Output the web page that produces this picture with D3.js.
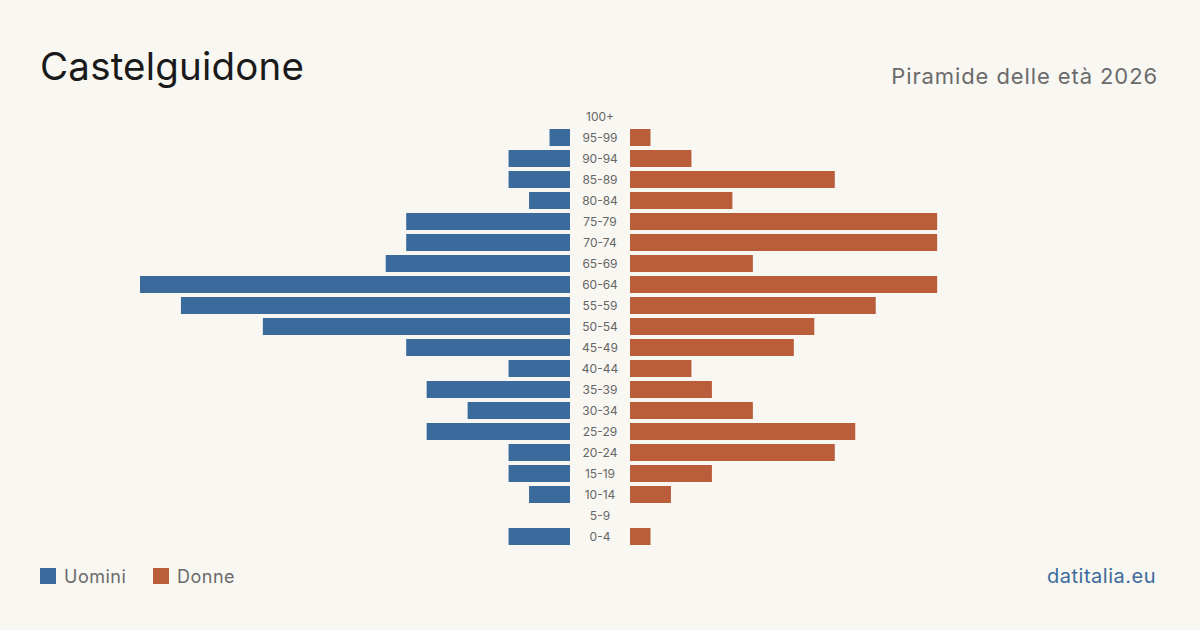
<!DOCTYPE html>
<html><head><meta charset="utf-8">
<script src="https://cdn.jsdelivr.net/npm/d3@7"></script>
<style>html,body{margin:0;padding:0;background:#f9f7f2;}svg{display:block;font-family:Inter,"Noto Sans",sans-serif;}</style>
</head><body>
<script>
const ageGroups = ["100+","95-99","90-94","85-89","80-84","75-79","70-74","65-69","60-64","55-59","50-54","45-49","40-44","35-39","30-34","25-29","20-24","15-19","10-14","5-9","0-4"];
const males   = [0,1,3,3,2,8,8,9,21,19,15,8,3,7,5,7,3,3,2,0,3];
const females = [0,1,3,10,5,15,15,6,15,12,9,8,3,4,6,11,10,4,2,0,1];
const title = "Castelguidone";
const subtitle = "Piramide delle età 2026";
const legendLabels = ["Uomini","Donne"];
const source = "datitalia.eu";

const W=1200,H=630;
const cMale="#3b6b9c", cFemale="#b95d3b";
const svg=d3.select("body").append("svg").attr("width",W).attr("height",H);
svg.append("rect").attr("width",W).attr("height",H).attr("fill","#f9f7f2");

const y=d3.scaleBand().domain(ageGroups).range([104,549]).paddingInner(4/21).paddingOuter(4/21);
const maxV=21;
const xM=d3.scaleLinear().domain([0,maxV]).range([570,140]);
const xF=d3.scaleLinear().domain([0,maxV]).range([630,1060]);

svg.append("g").selectAll("rect").data(ageGroups).join("rect")
  .attr("x",(d,i)=>xM(males[i])).attr("y",d=>y(d))
  .attr("width",(d,i)=>xM(0)-xM(males[i])).attr("height",y.bandwidth())
  .attr("fill",cMale);
svg.append("g").selectAll("rect").data(ageGroups).join("rect")
  .attr("x",xF(0)).attr("y",d=>y(d))
  .attr("width",(d,i)=>xF(females[i])-xF(0)).attr("height",y.bandwidth())
  .attr("fill",cFemale);

svg.append("g").selectAll("text").data(ageGroups).join("text")
  .attr("x",600).attr("y",d=>y(d)+y.bandwidth()/2).attr("dy","0.35em")
  .attr("text-anchor","middle").attr("font-size",12).attr("fill","#666")
  .text(d=>d);

svg.append("text").attr("x",40).attr("y",80).attr("font-size",38.5).attr("letter-spacing",0.2).attr("fill","#1a1a1a").text(title);
svg.append("text").attr("x",1158).attr("y",84).attr("text-anchor","end").attr("font-size",22).attr("letter-spacing",0.9).attr("fill","#6b6b6b").text(subtitle);

const lg=svg.append("g");
const lx=[40,153];
legendLabels.forEach((l,i)=>{
  lg.append("rect").attr("x",lx[i]).attr("y",568).attr("width",16).attr("height",16).attr("fill",i?cFemale:cMale);
  lg.append("text").attr("x",lx[i]+24).attr("y",583).attr("font-size",18).attr("letter-spacing",0.5).attr("fill","#6b6b6b").text(l);
});
svg.append("text").attr("x",1156).attr("y",583).attr("text-anchor","end").attr("font-size",20).attr("letter-spacing",0.5).attr("fill","#3b6b9c").text(source);
</script>
</body></html>
